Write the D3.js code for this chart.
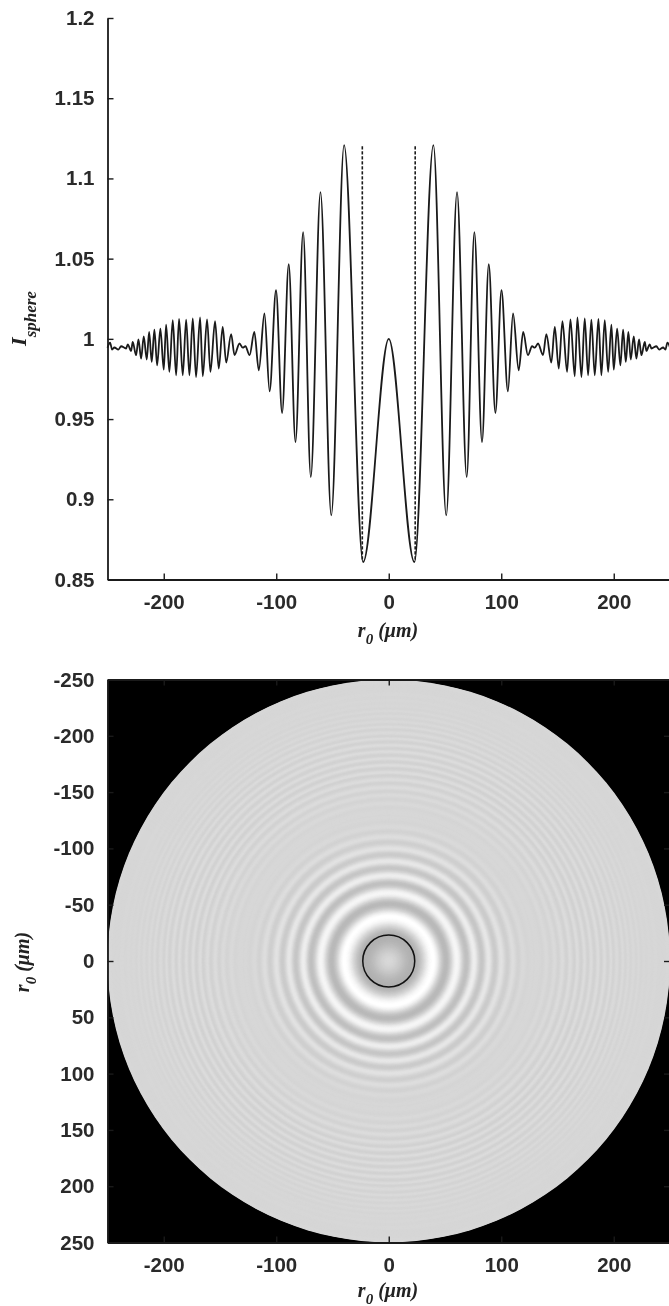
<!DOCTYPE html>
<html><head><meta charset="utf-8">
<script src="https://cdn.jsdelivr.net/npm/d3@7/dist/d3.min.js"></script>
<style>
html,body{margin:0;padding:0;background:#fff;}
svg{display:block;filter:blur(0.5px);}
.tick text{font-family:"Liberation Sans",Arial,sans-serif;font-weight:700;font-size:20.5px;fill:#2a2a2a;}
.title{font-family:"Liberation Serif","Times New Roman",serif;font-style:italic;font-weight:700;fill:#222;}
</style></head><body>
<svg id="chart" width="669" height="1306"></svg>
<script>
// Radial positions (um) of the profile's turning points
const radii = [-250,-247.7,-245.9,-243.9,-240.3,-237.9,-233.5,-232,-229,-227.6,-224.6,-222.5,-220.1,-217.8,-215.1,-213,-210.7,-208.3,-205.9,-203,-200,-197.9,-195,-192,-189,-186.4,-183.1,-180.1,-177.2,-174.2,-171.3,-167.7,-165.3,-161.5,-158.5,-154.4,-151.1,-147.6,-144.5,-140.1,-137.1,-132.7,-129.8,-127.4,-123.7,-119.5,-115.5,-110.5,-105.9,-100.2,-94.8,-88.9,-82.9,-76.1,-69.3,-60.7,-51.1,-39.7,-22.8,
0,
22.8,39.7,51.1,60.7,69.3,76.1,82.9,88.9,94.8,100.2,105.9,110.5,115.5,119.5,123.7,127.4,129.8,132.7,137.1,140.1,144.5,147.6,151.1,154.4,158.5,161.5,165.3,167.7,171.3,174.2,177.2,180.1,183.1,186.4,189,192,195,197.9,200,203,205.9,208.3,210.7,213,215.1,217.8,220.1,222.5,224.6,227.6,229,232,233.5,237.9,240.3,243.9,245.9,247.7,250];
// I_sphere at those points
const intensity = [.9945,.9977,.9933,.9946,.9933,.9954,.9940,.9966,.9925,.9981,.9898,.9996,.9877,1.0016,.9871,1.0043,.9856,1.0058,.9835,1.0064,.9808,1.0089,.9794,1.0116,.9773,1.0124,.9773,1.0120,.9773,1.0127,.9762,1.0133,.9767,1.0122,.9794,1.0110,.9815,1.0074,.9852,1.0029,.9898,.9971,.9945,.9954,.9898,1.0043,.9804,1.0158,.9673,1.0303,.9538,1.0465,.9357,1.0665,.9139,1.0915,.890,1.1208,.8608,
1.0,
.8608,1.1208,.890,1.0915,.9139,1.0665,.9357,1.0465,.9538,1.0303,.9673,1.0158,.9804,1.0043,.9898,.9954,.9945,.9971,.9898,1.0029,.9852,1.0074,.9815,1.0110,.9794,1.0122,.9767,1.0133,.9762,1.0127,.9773,1.0120,.9773,1.0124,.9773,1.0116,.9794,1.0089,.9808,1.0064,.9835,1.0058,.9856,1.0043,.9871,1.0016,.9877,.9996,.9898,.9981,.9925,.9966,.9940,.9954,.9933,.9946,.9933,.9977,.9945];
const markerRadii = [-23.5, 23.5];
const markerTop = 1.12, markerBottom = 0.862;
const circleRadius = 23.1;
const xTicks = [-200,-100,0,100,200];
const yTicks = [1.2,1.15,1.1,1.05,1,0.95,0.9,0.85];
const rowTicks = [-250,-200,-150,-100,-50,0,50,100,150,200,250];

const svg = d3.select("#chart");
const ink = "#1a1a1a";
const x1 = d3.scaleLinear().domain([-250,250]).range([107.5,670]);
const y1 = d3.scaleLinear().domain([0.85,1.2]).range([579.5,18]);
const x2 = d3.scaleLinear().domain([-250,250]).range([107.5,670]);
const y2 = d3.scaleLinear().domain([-250,250]).range([679.5,1242.5]);

// Top panel
const line = d3.line().x(d=>x1(d[0])).y(d=>y1(d[1])).curve(d3.curveMonotoneX);
const upper = svg.append("g");
upper.append("path").datum(d3.zip(radii,intensity)).attr("d",line)
  .attr("fill","none").attr("stroke",ink).attr("stroke-width",1.8).attr("stroke-linejoin","round");
upper.selectAll(".marker").data(markerRadii).join("line").attr("class","marker")
  .attr("x1",d=>x1(d)).attr("x2",d=>x1(d)).attr("y1",y1(markerTop)).attr("y2",y1(markerBottom))
  .attr("stroke",ink).attr("stroke-width",1.6).attr("stroke-dasharray","3.2 1.8");

function styleAxis(g){
  g.selectAll("path.domain").attr("stroke",ink).attr("stroke-width",1.8);
  g.selectAll(".tick line").attr("stroke",ink).attr("stroke-width",1.4);
}
upper.append("g").attr("transform","translate(107.5,0)")
  .call(d3.axisLeft(y1).tickValues(yTicks).tickFormat(String).tickSizeInner(-6).tickSizeOuter(0).tickPadding(13))
  .call(styleAxis);
upper.append("g").attr("transform","translate(0,579.5)")
  .call(d3.axisBottom(x1).tickValues(xTicks).tickFormat(String).tickSizeInner(-6).tickSizeOuter(0).tickPadding(15))
  .call(styleAxis);

// Bottom panel
const profile = d3.scaleLinear().domain(radii.slice(59)).range(intensity.slice(59))
  .interpolate((a,b)=>t=>a+(b-a)*d3.easeSinInOut(t)).clamp(true);
const gray = d3.scaleLinear().domain([0.86,1,1.12]).range([176,216,255]).clamp(true);
const lower = svg.append("g");
lower.append("rect").attr("x",x2(-250)).attr("y",y2(-250))
  .attr("width",x2(250)-x2(-250)).attr("height",y2(250)-y2(-250)).attr("fill","#000");
const discRadii = d3.range(250,0,-0.4);
lower.selectAll(".ring").data(discRadii).join("circle").attr("class","ring")
  .attr("cx",x2(0)).attr("cy",y2(0)).attr("r",d=>x2(d)-x2(0))
  .attr("fill",d=>{const v=Math.round(gray(profile(d)));return d3.rgb(v,v,v).formatHex();});
lower.append("circle").attr("cx",x2(0)).attr("cy",y2(0)).attr("r",x2(circleRadius)-x2(0))
  .attr("fill","none").attr("stroke","#111").attr("stroke-width",1.5);

lower.append("g").attr("transform","translate(107.5,0)")
  .call(d3.axisLeft(y2).tickValues(rowTicks).tickFormat(String).tickSizeInner(-6).tickSizeOuter(0).tickPadding(13))
  .call(styleAxis);
lower.append("g").attr("transform","translate(0,1242.5)")
  .call(d3.axisBottom(x2).tickValues(xTicks).tickFormat(String).tickSizeInner(-6).tickSizeOuter(0).tickPadding(15))
  .call(styleAxis);
lower.append("g").attr("transform","translate(0,679.5)")
  .call(d3.axisTop(x2).tickValues(xTicks).tickFormat("").tickSizeInner(-6).tickSizeOuter(0))
  .call(styleAxis);
lower.append("g").attr("transform","translate(670,0)")
  .call(d3.axisRight(y2).tickValues(rowTicks).tickFormat("").tickSizeInner(-6).tickSizeOuter(0))
  .call(styleAxis);

// Titles
function rTitle(g){
  const t=g.append("text").attr("class","title").attr("text-anchor","middle").attr("font-size",20);
  t.append("tspan").text("r");
  t.append("tspan").attr("font-size",15).attr("dy",7).text("0");
  t.append("tspan").attr("dy",-7).text(" (μm)");
}
svg.append("g").attr("transform","translate(388,637)").call(rTitle);
svg.append("g").attr("transform","translate(388,1297)").call(rTitle);
svg.append("g").attr("transform","translate(29,962) rotate(-90)").call(rTitle);
const yLab = svg.append("text").attr("class","title").attr("transform","translate(26,318.5) rotate(-90)")
  .attr("text-anchor","middle").attr("font-size",22);
yLab.append("tspan").text("I");
yLab.append("tspan").attr("font-size",17).attr("dy",10).text("sphere");
</script>
</body></html>
